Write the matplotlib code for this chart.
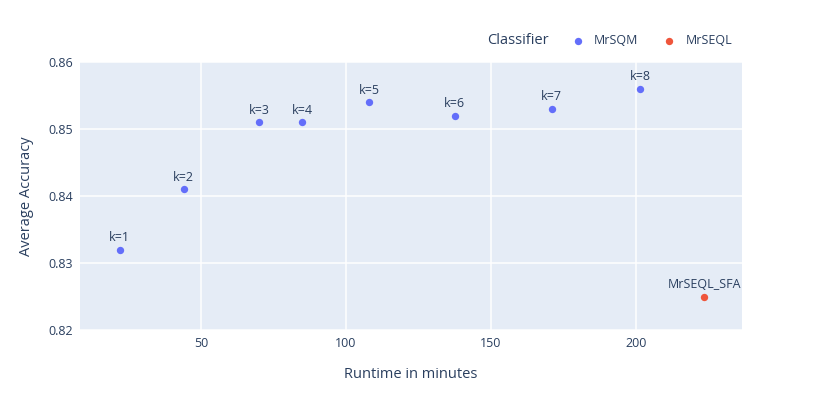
import matplotlib
matplotlib.use("Agg")
import matplotlib.pyplot as plt

plt.rcParams['font.family'] = ['Open Sans', 'DejaVu Sans']

# Data
mrsqm_runtime = [22, 44, 70, 85, 108, 137.5, 171, 201.5]
mrsqm_acc = [0.832, 0.841, 0.851, 0.851, 0.854, 0.852, 0.853, 0.856]
mrsqm_labels = ["k=1", "k=2", "k=3", "k=4", "k=5", "k=6", "k=7", "k=8"]

mrseql_runtime = [223.5]
mrseql_acc = [0.825]
mrseql_labels = ["MrSEQL_SFA"]

xticks = [50, 100, 150, 200]
yticks = [0.82, 0.83, 0.84, 0.85, 0.86]

text_col = "#2a3f5f"
fig = plt.figure(figsize=(8.3, 4.18), dpi=100)
ax = fig.add_axes([80 / 830, 88 / 418, 662 / 830, 268 / 418])
ax.set_facecolor("#E5ECF6")
for s in ax.spines.values():
    s.set_visible(False)
ax.set_axisbelow(True)
ax.grid(color="white", linewidth=1.1)

series = [("MrSQM", mrsqm_runtime, mrsqm_acc, mrsqm_labels, "#636EFA"),
          ("MrSEQL", mrseql_runtime, mrseql_acc, mrseql_labels, "#EF553B")]
handles = []
for name, xs, ys, labels, col in series:
    h = ax.scatter(xs, ys, s=28, color=col, label=name, zorder=3, linewidths=0)
    handles.append(h)
    for x, y, lab in zip(xs, ys, labels):
        ax.annotate(lab, (x, y), xytext=(0, 4), textcoords="offset points",
                    ha="center", va="bottom", fontsize=9, color=text_col)

ax.set_xlim(8.3, 236.6)
ax.set_ylim(0.82, 0.86)
ax.set_xticks(xticks)
ax.set_yticks(yticks)
ax.set_yticklabels([f"{v:.2f}" for v in yticks])
ax.tick_params(length=0, labelsize=9, labelcolor=text_col, pad=5)
ax.set_xlabel("Runtime in minutes", fontsize=10.5, color=text_col, labelpad=12)
ax.set_ylabel("Average Accuracy", fontsize=10.5, color=text_col, labelpad=10)

fig.text(487 / 830, 1 - 41 / 418, "Classifier", fontsize=10.5, color=text_col,
         ha="left", va="center")
fig.legend(handles=handles, loc="center left", bbox_to_anchor=(570 / 830, 1 - 41 / 418),
           ncol=2, frameon=False, fontsize=9, labelcolor=text_col,
           handletextpad=0.7, columnspacing=1.9, markerscale=1.0, borderaxespad=0,
           borderpad=0, handlelength=1.2)

fig.savefig("out.png", dpi=100)
